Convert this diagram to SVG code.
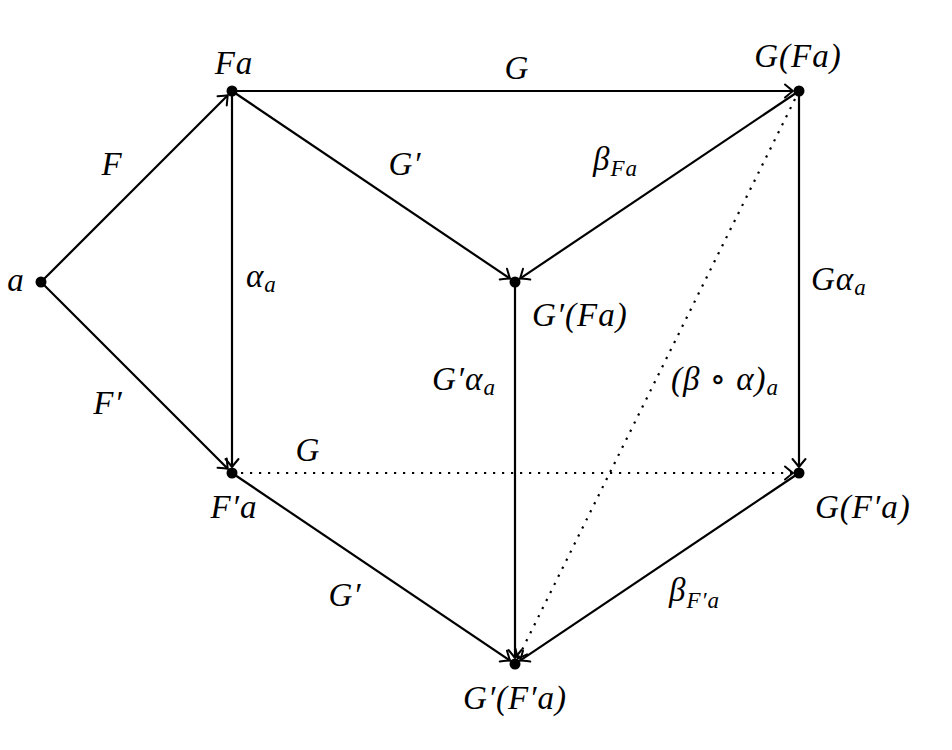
<svg xmlns="http://www.w3.org/2000/svg" width="952" height="750" viewBox="0 0 952 750">
<style>
  .lbl { font-family: "Liberation Serif", "DejaVu Serif", serif; font-style: italic; font-size: 33px; letter-spacing: 1px; fill: #000; }
  .up { font-style: normal; }
  .sub { font-size: 23px; letter-spacing: 1px; }
  .e { stroke: #000; stroke-width: 2.2; fill: none; marker-end: url(#to); }
  .dot { stroke-dasharray: 2.2 6.8; }
  .n { fill: #000; }
</style>
<defs>
  <marker id="to" markerUnits="userSpaceOnUse" markerWidth="20" markerHeight="20" viewBox="-12 -10 14 20" refX="0" refY="0" orient="auto">
    <path d="M -8 -6.5 Q -2 -1.5 0 0 Q -2 1.5 -8 6.5" fill="none" stroke="#000" stroke-width="2" stroke-linecap="round"/>
  </marker>
</defs>
<rect width="952" height="750" fill="#fff"/>
<g id="connectors">
  <line class="e" x1="41" y1="282" x2="227.8" y2="95.2"/>
  <line class="e" x1="41" y1="282" x2="227.8" y2="468.8"/>
  <line class="e" x1="232" y1="91" x2="793" y2="91"/>
  <line class="e" x1="232" y1="91" x2="510" y2="278.6"/>
  <line class="e" x1="232" y1="91" x2="232" y2="467"/>
  <line class="e" x1="799" y1="91" x2="520" y2="278.6"/>
  <line class="e" x1="799" y1="91" x2="799" y2="467"/>
  <line class="e dot" x1="799" y1="91" x2="517.7" y2="658.6"/>
  <line class="e" x1="515" y1="282" x2="515" y2="658"/>
  <line class="e dot" x1="232" y1="473" x2="793" y2="473"/>
  <line class="e" x1="232" y1="473" x2="510" y2="660.6"/>
  <line class="e" x1="799" y1="473" x2="520" y2="660.6"/>
  <text class="lbl" x="517" y="79" text-anchor="middle">G</text>
  <text class="lbl" x="112" y="175" text-anchor="middle">F</text>
  <text class="lbl" x="405" y="175" text-anchor="middle">G′</text>
  <text class="lbl" x="593" y="170">β<tspan class="sub" dy="6">Fa</tspan></text>
  <text class="lbl" x="246" y="287">α<tspan class="sub" dy="5">a</tspan></text>
  <text class="lbl" x="811" y="290">Gα<tspan class="sub" dy="5">a</tspan></text>
  <text class="lbl" x="108" y="414" text-anchor="middle">F′</text>
  <text class="lbl" x="432" y="390">G′α<tspan class="sub" dy="5">a</tspan></text>
  <text class="lbl" x="671" y="390">(β <tspan class="up">∘</tspan> α)<tspan class="sub" dy="5">a</tspan></text>
  <text class="lbl" x="308" y="461" text-anchor="middle">G</text>
  <text class="lbl" x="345" y="606" text-anchor="middle">G′</text>
  <text class="lbl" x="669" y="601">β<tspan class="sub" dy="7">F′a</tspan></text>
</g>
<g id="node-a">
  <circle class="n" cx="41" cy="282" r="5.5"/>
  <text class="lbl" x="16" y="291" text-anchor="middle">a</text>
</g>
<g id="node-Fa">
  <circle class="n" cx="232" cy="91" r="5.5"/>
  <text class="lbl" x="234" y="74" text-anchor="middle">Fa</text>
</g>
<g id="node-GFa">
  <circle class="n" cx="799" cy="91" r="5.5"/>
  <text class="lbl" x="798" y="67" text-anchor="middle">G(Fa)</text>
</g>
<g id="node-GpFa">
  <circle class="n" cx="515" cy="282" r="5.5"/>
  <text class="lbl" x="532" y="326">G′(Fa)</text>
</g>
<g id="node-Fpa">
  <circle class="n" cx="232" cy="473" r="5.5"/>
  <text class="lbl" x="234" y="518" text-anchor="middle">F′a</text>
</g>
<g id="node-GFpa">
  <circle class="n" cx="799" cy="473" r="5.5"/>
  <text class="lbl" x="815" y="518">G(F′a)</text>
</g>
<g id="node-GpFpa">
  <circle class="n" cx="515" cy="664" r="5.5"/>
  <text class="lbl" x="515" y="709" text-anchor="middle">G′(F′a)</text>
</g>
</svg>
